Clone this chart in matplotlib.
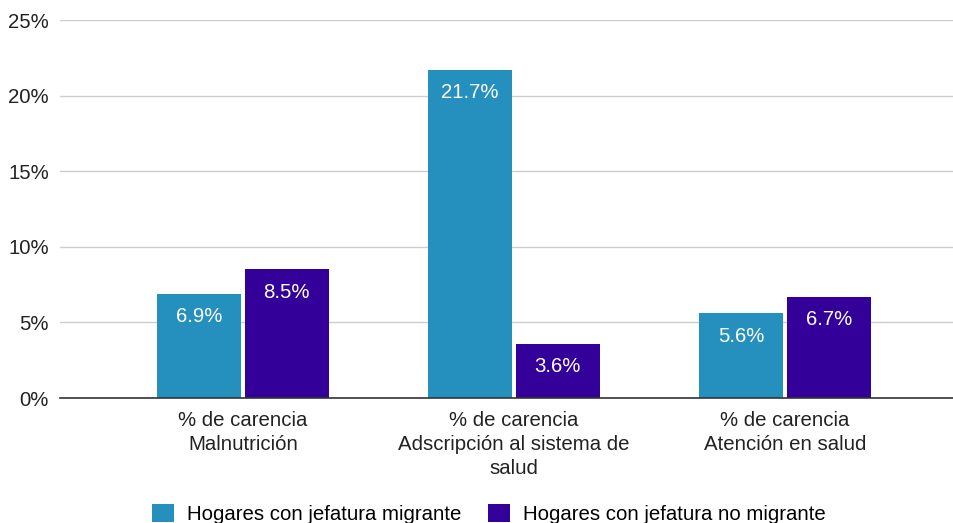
import matplotlib
matplotlib.use("Agg")
import matplotlib.pyplot as plt
import numpy as np
from matplotlib.patches import Patch

categories = ["% de carencia\nMalnutrición",
              "% de carencia\nAdscripción al sistema de\nsalud",
              "% de carencia\nAtención en salud"]
series_names = ["Hogares con jefatura migrante", "Hogares con jefatura no migrante"]
migrante = [6.9, 21.7, 5.6]
no_migrante = [8.5, 3.6, 6.7]
colors = ["#258fbe", "#330099"]
yticks = [0, 5, 10, 15, 20, 25]

plt.rcParams['font.family'] = ['Liberation Sans', 'DejaVu Sans']
FS = 14.7

fig = plt.figure(figsize=(9.54, 5.23), dpi=100)
ax = fig.add_axes([60/954, 1-398/523, 1-60/954, (398-20)/523])

x = np.arange(len(categories))
off = 0.162
w = 0.31
for vals, sign, c in [(migrante, -1, colors[0]), (no_migrante, 1, colors[1])]:
    bars = ax.bar(x + sign*off, vals, width=w, color=c, zorder=3)
    for b, v in zip(bars, vals):
        ax.text(b.get_x() + b.get_width()/2, v - 1.5, f"{v:.1f}%",
                ha="center", va="center", color="white", fontsize=FS, zorder=4)

ax.set_xlim(-0.675, 2.624)
ax.set_ylim(0, 25)
ax.set_yticks(yticks)
ax.set_yticklabels([f"{t}%" for t in yticks], fontsize=FS, color="#222222")
ax.set_xticks(x)
ax.set_xticklabels(categories, fontsize=FS, color="#222222", linespacing=1.33)
ax.tick_params(axis="both", length=0, pad=8)
ax.tick_params(axis="x", pad=9.5)
ax.grid(axis="y", color="#cccccc", linewidth=1, zorder=0)
for s in ["top", "right", "left"]:
    ax.spines[s].set_visible(False)
ax.spines["bottom"].set_color("#333333")
ax.spines["bottom"].set_linewidth(1.2)
ax.spines["bottom"].set_zorder(5)

handles = [Patch(facecolor=colors[0]), Patch(facecolor=colors[1])]
fig.legend(handles, series_names, loc="center", bbox_to_anchor=(0.5126, 1-514/523),
           ncol=2, frameon=False, fontsize=FS, handlelength=1.05, handleheight=1.0,
           columnspacing=1.3, handletextpad=0.65)

fig.savefig("out.png", dpi=100)
